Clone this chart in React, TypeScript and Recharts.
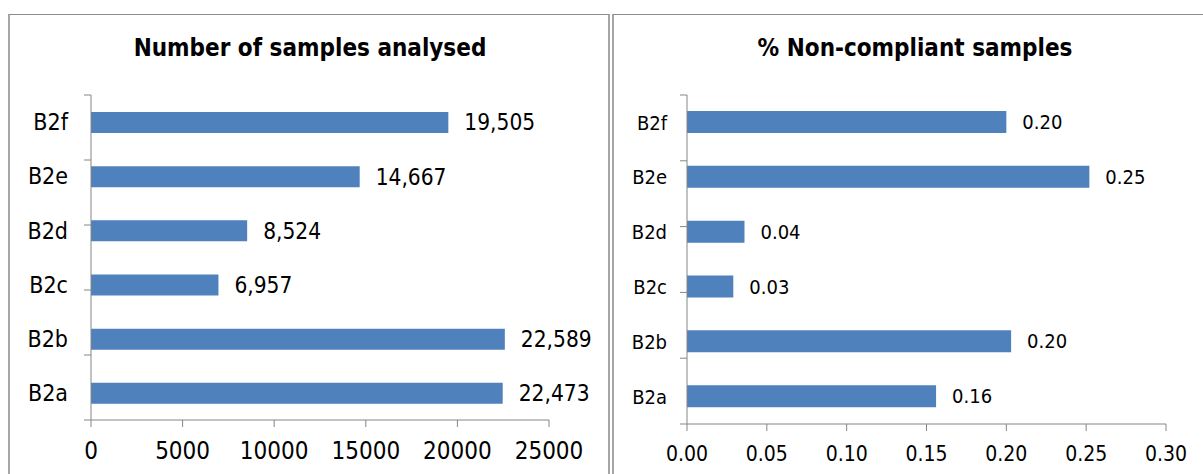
import React from "react";
import { BarChart, Bar, XAxis, YAxis, LabelList } from "recharts";

const categories = ["B2a", "B2b", "B2c", "B2d", "B2e", "B2f"];
const samplesAnalysed = [22473, 22589, 6957, 8524, 14667, 19505];
const pctNonCompliant = [0.156, 0.203, 0.029, 0.036, 0.252, 0.2];
const samplesTicks = [0, 5000, 10000, 15000, 20000, 25000];
const pctTicks = [0, 0.05, 0.1, 0.15, 0.2, 0.25, 0.3];
const bandEdges = [0, 1, 2, 3, 4, 5, 6];

const FONT = '"DejaVu Sans Condensed", "DejaVu Sans", Tahoma, sans-serif';
const BLUE = "#4F81BD";
const AXIS = "#868686";

const samplesData = categories.map((c, i) => ({ cat: c, value: samplesAnalysed[i] }));
const pctData = categories.map((c, i) => ({ cat: c, value: pctNonCompliant[i] }));

const panelStyle = (left: number, width: number): React.CSSProperties => ({
  position: "absolute",
  left,
  top: 14,
  width,
  height: 480,
  borderTop: "1px solid #8c8c8c",
  borderLeft: "2px solid #a6a6a6",
  borderRight: "2px solid #a6a6a6",
  boxSizing: "border-box",
  background: "#fff",
});

const titleStyle = (center: number): React.CSSProperties => ({
  position: "absolute",
  left: center - 250,
  width: 500,
  top: 36,
  textAlign: "center",
  fontFamily: FONT,
  fontWeight: "bold",
  fontSize: 24,
  lineHeight: "24px",
  color: "#000",
});

const noTick = () => <g />;

export default function App() {
  return (
    <div style={{ position: "absolute", left: 0, top: 0, width: 1203, height: 474, overflow: "hidden", background: "#fff" }}>
      <div style={panelStyle(8, 602)} />
      <div style={panelStyle(612, 600)} />
      <div style={titleStyle(310)}>Number of samples analysed</div>
      <div style={titleStyle(915)}>% Non-compliant samples</div>

      <div style={{ position: "absolute", left: 0, top: 0 }}>
        <BarChart
          width={610}
          height={474}
          data={samplesData}
          layout="vertical"
          margin={{ top: 95, right: 61, bottom: 0, left: 0 }}
          style={{ fontFamily: FONT }}
        >
          <XAxis
            type="number"
            domain={[0, 25000]}
            ticks={samplesTicks}
            height={54}
            tickSize={7}
            tickMargin={15}
            stroke={AXIS}
            tick={{ fill: "#000", fontSize: 24 }}
            interval={0}
          />
          <YAxis
            yAxisId="cat"
            type="category"
            dataKey="cat"
            reversed
            width={90}
            axisLine={false}
            tickLine={false}
            tickSize={0}
            tickMargin={22}
            tick={{ fill: "#000", fontSize: 23 }}
          />
          <YAxis
            yAxisId="a_grid"
            type="number"
            domain={[0, 6]}
            ticks={bandEdges}
            width={1}
            tickSize={7}
            tick={noTick}
            stroke={AXIS}
          />
          <Bar dataKey="value" yAxisId="cat" fill={BLUE} barSize={21} isAnimationActive={false}>
            <LabelList
              dataKey="value"
              position="right"
              offset={16}
              fill="#000"
              fontSize={22.5}
              formatter={(v: number) => v.toLocaleString("en-US")}
            />
          </Bar>
        </BarChart>
      </div>

      <div style={{ position: "absolute", left: 613, top: 0 }}>
        <BarChart
          width={590}
          height={474}
          data={pctData}
          layout="vertical"
          margin={{ top: 95, right: 37, bottom: 0, left: 0 }}
          style={{ fontFamily: FONT }}
        >
          <XAxis
            type="number"
            domain={[0, 0.3]}
            ticks={pctTicks}
            height={50}
            tickSize={7}
            tickMargin={15}
            stroke={AXIS}
            tick={{ fill: "#000", fontSize: 21 }}
            tickFormatter={(v: number) => v.toFixed(2)}
            interval={0}
          />
          <YAxis
            yAxisId="cat"
            type="category"
            dataKey="cat"
            reversed
            width={73}
            axisLine={false}
            tickLine={false}
            tickSize={0}
            tickMargin={19}
            tick={{ fill: "#000", fontSize: 20 }}
          />
          <YAxis
            yAxisId="a_grid"
            type="number"
            domain={[0, 6]}
            ticks={bandEdges}
            width={1}
            tickSize={7}
            tick={noTick}
            stroke={AXIS}
          />
          <Bar dataKey="value" yAxisId="cat" fill={BLUE} barSize={22} isAnimationActive={false}>
            <LabelList
              dataKey="value"
              position="right"
              offset={16}
              fill="#000"
              fontSize={20}
              formatter={(v: number) => v.toFixed(2)}
            />
          </Bar>
        </BarChart>
      </div>
    </div>
  );
}
